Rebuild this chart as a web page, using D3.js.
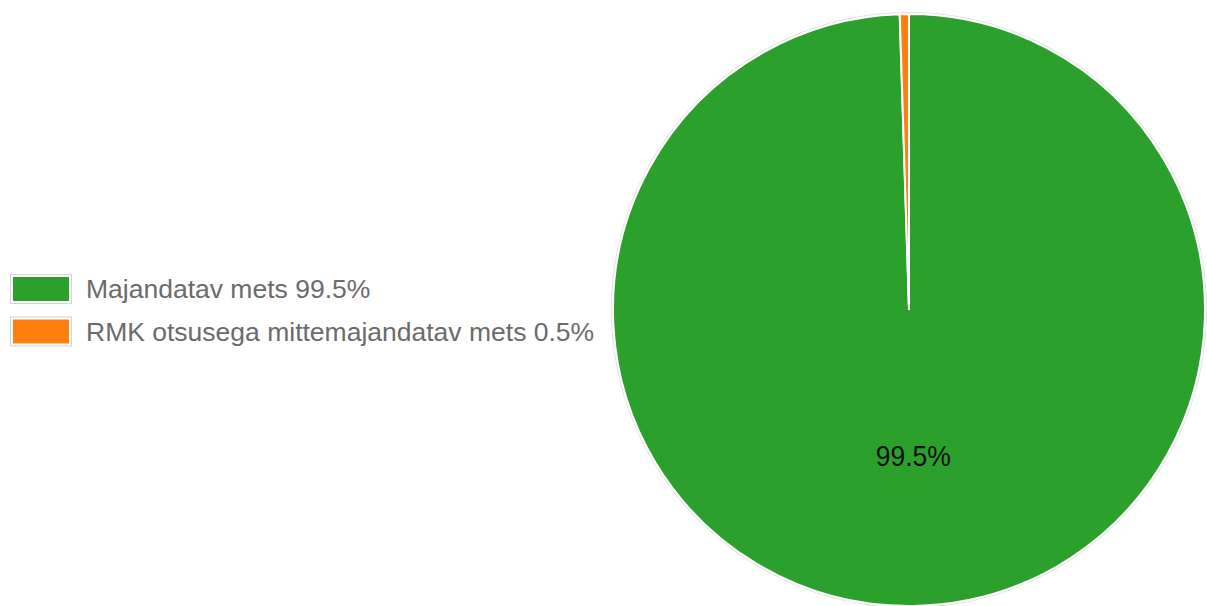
<!DOCTYPE html>
<html><head><meta charset="utf-8">
<script src="https://cdn.jsdelivr.net/npm/d3@7"></script>
<style>body{margin:0;background:#fff;}svg{display:block;}</style>
</head><body>
<svg id="c" width="1207" height="606"></svg>
<script>
const categories = ["Majandatav mets", "RMK otsusega mittemajandatav mets"];
const values = [99.5, 0.5];
const colors = ["#2ca02c", "#ff7f0e"];

const svg = d3.select("#c");
const cx = 909, cy = 310, R = 296;
const fmt = v => v.toFixed(1) + "%";
const data = categories.map((c, i) => ({name: c, value: values[i], color: colors[i]}));

const pie = d3.pie().value(d => d.value).sort(null);
const arc = d3.arc().innerRadius(0).outerRadius(R);
const labelArc = d3.arc().innerRadius(R * 0.5).outerRadius(R * 0.5);
const g = svg.append("g").attr("transform", `translate(${cx},${cy})`);
g.append("circle").attr("r", R + 1.5).attr("fill", "none").attr("stroke", "#e0e0e0").attr("stroke-width", 1);
const arcs = pie(data);
g.selectAll("path").data(arcs).enter().append("path")
  .attr("d", arc).attr("fill", d => d.data.color)
  .attr("stroke", "#fff").attr("stroke-width", 2);
g.selectAll("text.lbl").data(arcs.filter(d => d.data.value > 5)).enter().append("text")
  .attr("class", "lbl")
  .attr("transform", d => { const c = labelArc.centroid(d); return `translate(${c[0] + 2},${c[1] + 8}) scale(1,1.08)`; })
  .attr("text-anchor", "middle")
  .attr("font-family", "Liberation Sans, Arial, sans-serif").attr("font-size", 26.5)
  .attr("fill", "#111").text(d => fmt(d.data.value));

const leg = svg.append("g");
const rowY = d3.scaleBand().domain(categories).range([274, 359]).paddingInner(0);
const items = leg.selectAll("g").data(data).enter().append("g")
  .attr("transform", d => `translate(0,${rowY(d.name)})`);
items.append("rect").attr("x", 10.5).attr("y", 0.5).attr("width", 61).attr("height", 29)
  .attr("fill", "#fff").attr("stroke", "#d4d4d4");
items.append("rect").attr("x", 13).attr("y", 3).attr("width", 56).attr("height", 24)
  .attr("fill", d => d.color);
items.append("text").attr("x", 86).attr("y", 24)
  .attr("font-family", "Liberation Sans, Arial, sans-serif").attr("font-size", 26.5)
  .attr("fill", "#6b6b6b").text(d => d.name + " " + fmt(d.value));
</script>
</body></html>
